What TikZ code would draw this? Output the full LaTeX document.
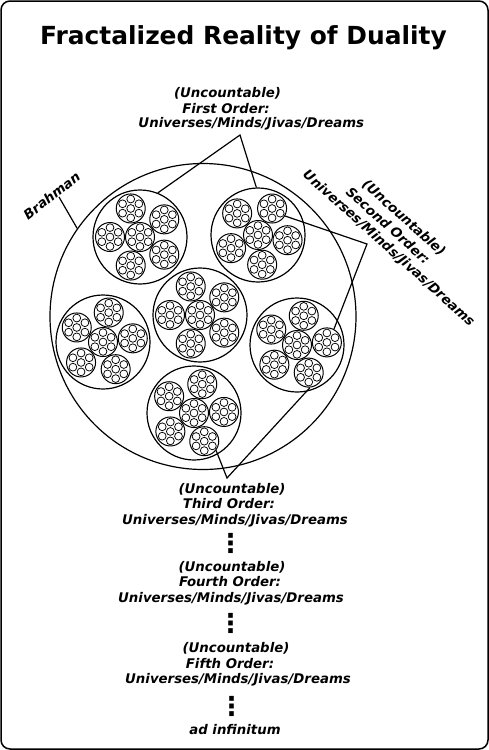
\documentclass[tikz,border=0pt]{standalone}
\usepackage{fontspec}
\setmainfont{DejaVu Sans}
\usetikzlibrary{calc}
\newcommand{\orbgroup}[4]{%
  \node[orbtwo] (#1) at (#2,#3) {};
  \node[orbthree] (#1-0) at (#1) {};
  \foreach \k in {1,...,5}{\node[orbthree] (#1-\k) at ($(#1)+({-(#4+72*(\k-1))}:30)$) {};}
  \foreach \k in {0,...,5}{%
    \draw[seed] (#1-\k.center) circle[radius=3.9pt];
    \foreach \j in {0,...,5}{\draw[seed] ($(#1-\k.center)+({90+60*\j}:9.4)$) circle[radius=3.9pt];}
  }
}
\begin{document}
\begin{tikzpicture}[x=1pt,y=-1pt,
  frame/.style={draw, line width=1.5pt, rounded corners=9pt},
  orbone/.style={circle, draw, line width=1.2pt, minimum size=306pt, inner sep=0pt},
  orbtwo/.style={circle, draw, line width=1.2pt, minimum size=94pt, inner sep=0pt},
  orbthree/.style={circle, draw, line width=1pt, minimum size=29pt, inner sep=0pt},
  seed/.style={line width=0.75pt},
  link/.style={line width=1.2pt},
  ttl/.style={font=\fontsize{24.9}{28}\selectfont\bfseries, inner sep=0pt, anchor=base},
  lbl/.style={font=\fontsize{13.3}{15}\selectfont\bfseries\itshape, inner sep=0pt, anchor=base},
  dotcol/.style={font=\fontsize{26}{28}\selectfont\bfseries, inner sep=0pt},
]
\useasboundingbox (0,0) rectangle (489,750);
\draw[frame] (1,1) rectangle (488,749);

\node[ttl] (title) at (243.5,44) {Fractalized Reality of Duality};

% Brahman
\node[orbone] (brahman) at (203,316.5) {};
\node[lbl, rotate=38] (brl) at (54.8,199.5) {Brahman};
\coordinate (bb) at (59,197);
\draw[link] (bb) -- (brahman.145);

% second-level groups
\orbgroup{tl}{140}{237}{36}
\orbgroup{tr}{258}{235}{62}
\orbgroup{ct}{200}{315}{36}
\orbgroup{lf}{103}{342}{7}
\orbgroup{rt}{297}{345}{5}
\orbgroup{bt}{194}{413}{2}

% first order
\node[lbl] (f1) at (227.5,97.7) {(Uncountable)};
\node[lbl] (f2) at (226,113) {First Order:};
\node[lbl] (f3) at (251.3,127.7) {Universes/Minds/Jivas/Dreams};
\coordinate (fa) at (240,135);
\draw[link] (tl.68) -- (fa) -- (tr.92);

% second order
\node[lbl, rotate=-42] (s1) at (401,221.3) {(Uncountable)};
\node[lbl, rotate=-42] (s2) at (385,229.3) {Second Order:};
\node[lbl, rotate=-42] (s3) at (386,251.3) {Universes/Minds/Jivas/Dreams};
\coordinate (sa) at (367,244);
\draw[link] (tr-1.-30) -- (sa) -- (rt-1.62);

% third order
\coordinate (ta) at (227,478);
\draw[link] (bt-5.-38) -- (ta) -- (rt-5.-85);
\node[lbl] (t1) at (232,493.3) {(Uncountable)};
\node[lbl] (t2) at (229,508.3) {Third Order:};
\node[lbl] (t3) at (235,524) {Universes/Minds/Jivas/Dreams};
\node[dotcol] (d1) at (230.5,543.5) {⋮};

\node[lbl] (u1) at (232,571) {(Uncountable)};
\node[lbl] (u2) at (230,586.7) {Fourth Order:};
\node[lbl] (u3) at (231,602) {Universes/Minds/Jivas/Dreams};
\node[dotcol] (d2) at (230.5,623.5) {⋮};

\node[lbl] (v1) at (236,652.7) {(Uncountable)};
\node[lbl] (v2) at (230,668.3) {Fifth Order:};
\node[lbl] (v3) at (238,683.3) {Universes/Minds/Jivas/Dreams};
\node[dotcol] (d3) at (231.7,706.5) {⋮};

\node[lbl] (w) at (235,734) {ad infinitum};
\end{tikzpicture}
\end{document}
